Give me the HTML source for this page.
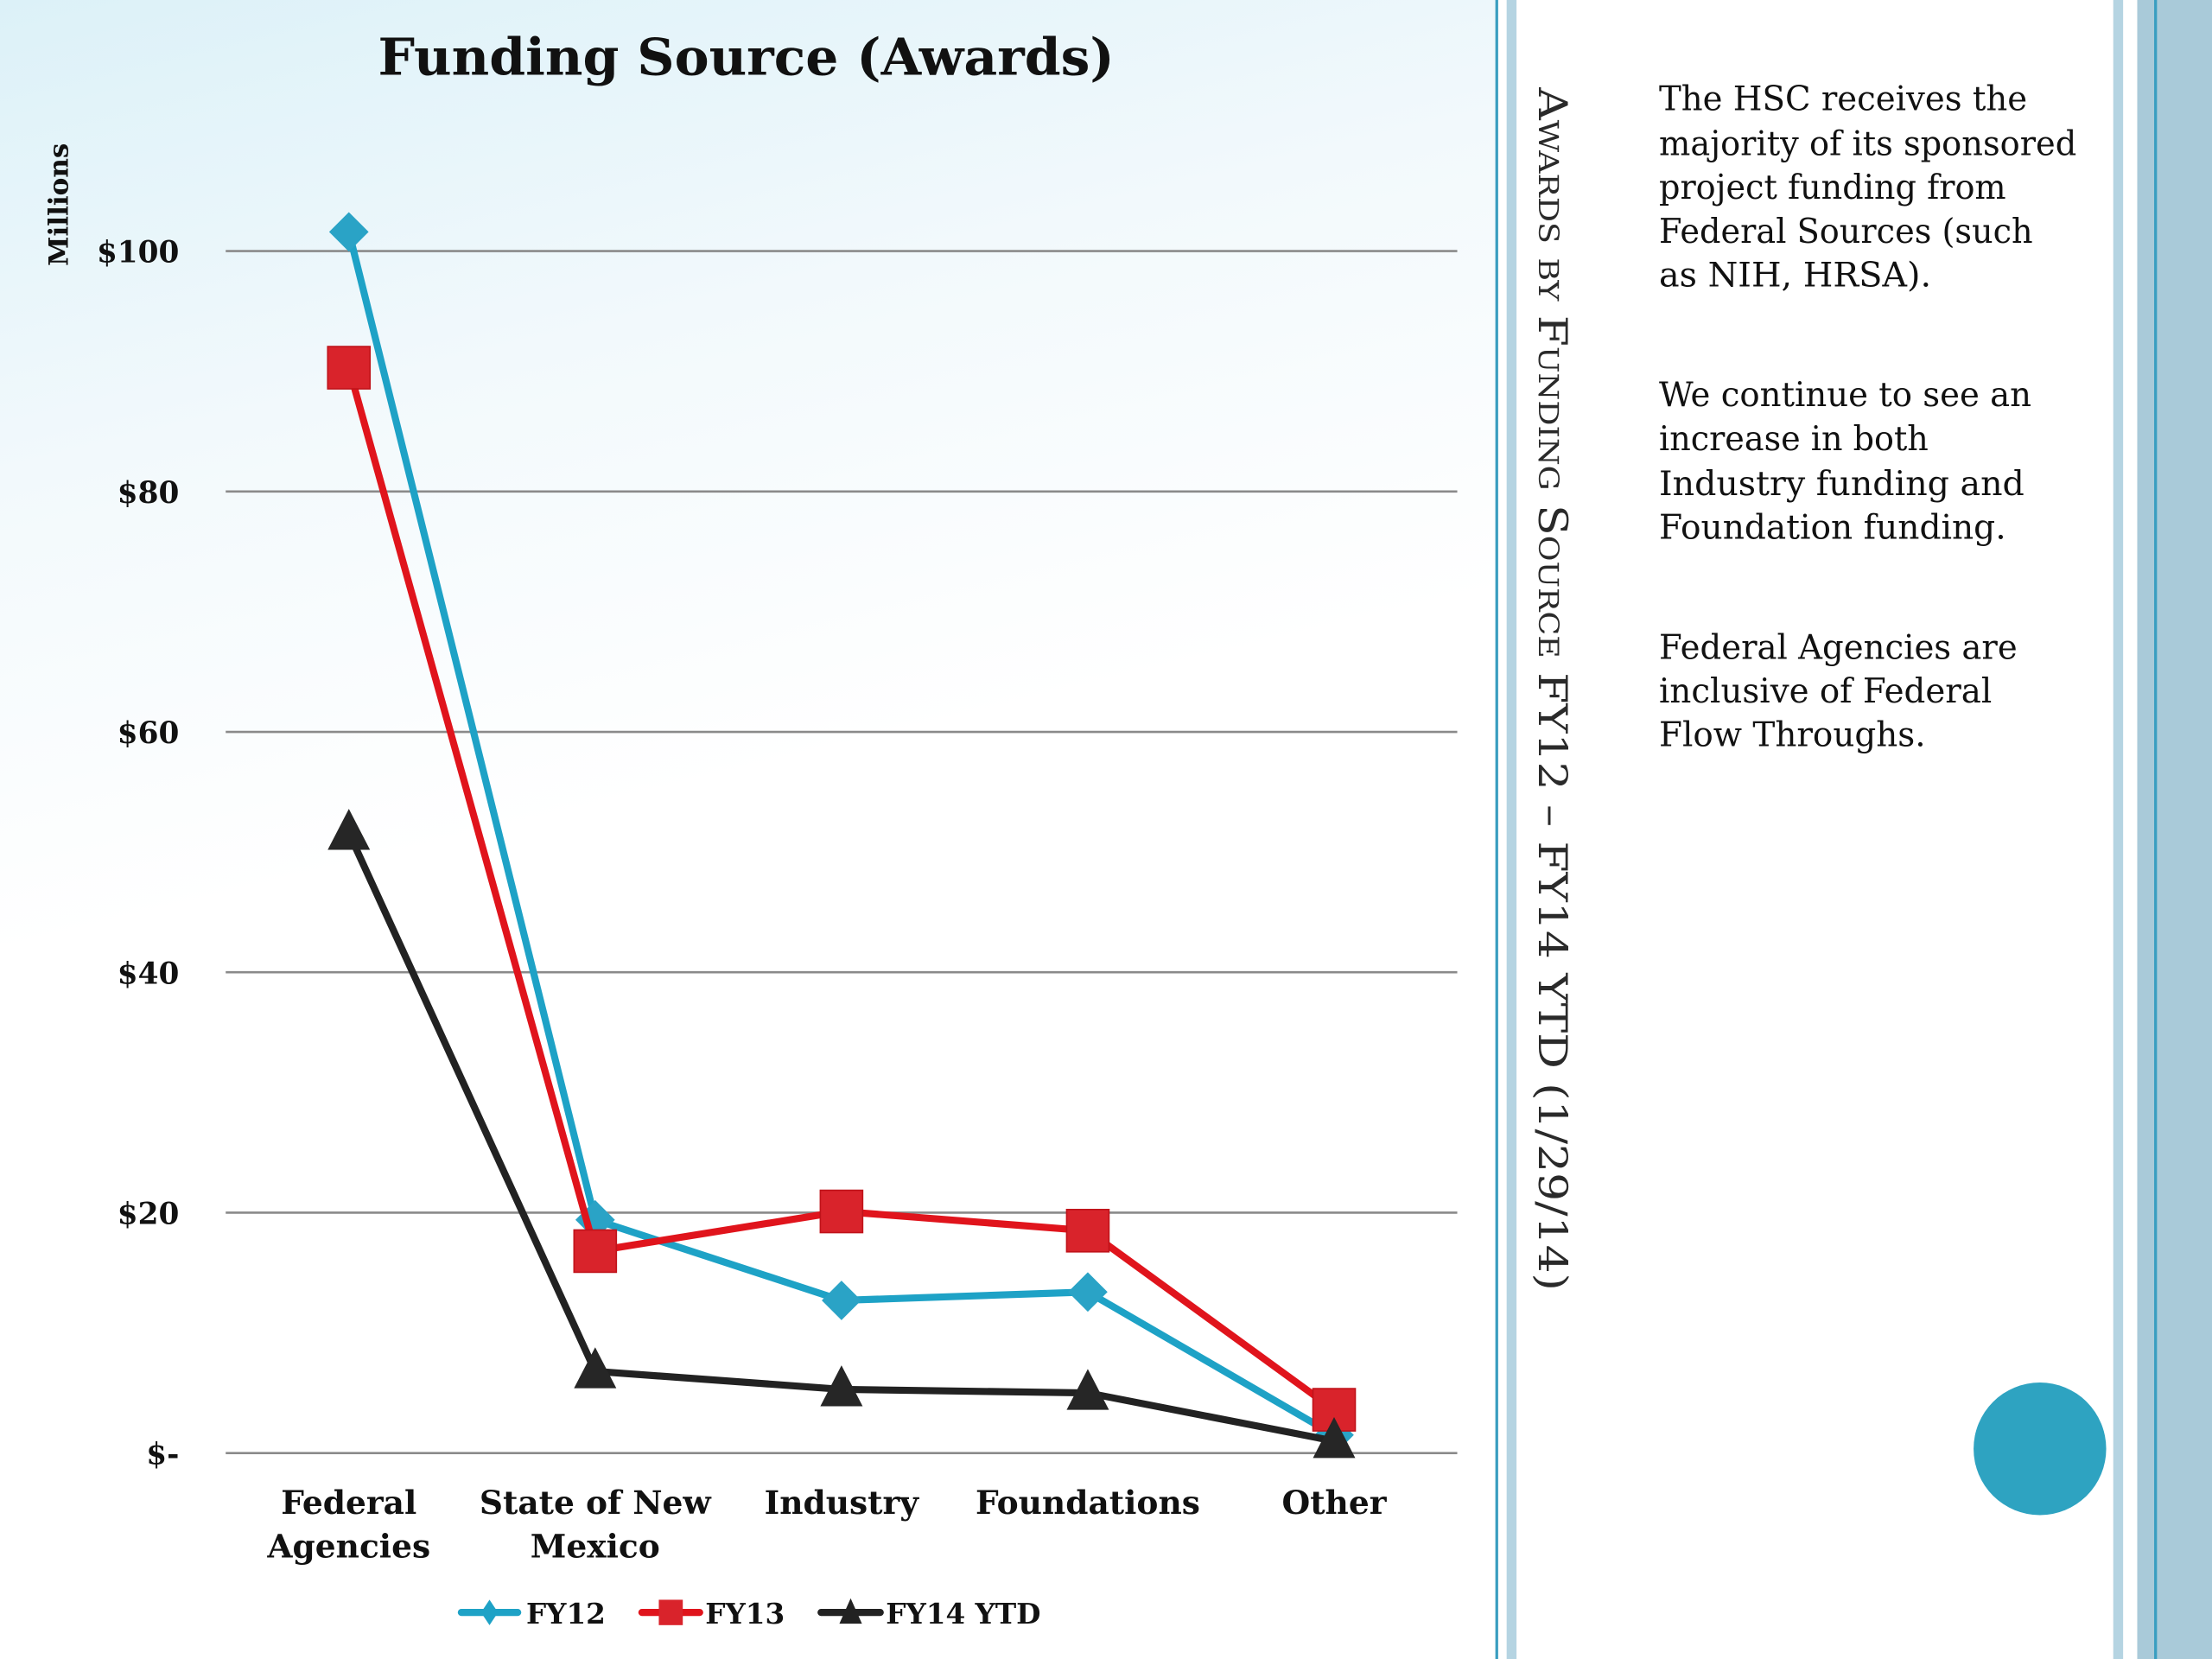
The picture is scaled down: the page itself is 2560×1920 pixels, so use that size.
<!DOCTYPE html>
<html><head><meta charset="utf-8"><style>html,body{margin:0;padding:0;background:#fff}svg{display:block}</style></head>
<body>
<svg xmlns="http://www.w3.org/2000/svg" width="2560" height="1920" viewBox="0 0 1568 1176" font-family="'DejaVu Serif','Liberation Serif',serif">
<defs>
<linearGradient id="bg" x1="0" y1="0" x2="0.12" y2="0.55">
<stop offset="0" stop-color="#dcf1f8"/><stop offset="0.5" stop-color="#f2f9fc"/><stop offset="1" stop-color="#ffffff"/>
</linearGradient>
</defs>
<rect x="0" y="0" width="1062" height="1176" fill="url(#bg)"/>
<rect x="1062" y="0" width="506" height="1176" fill="#fff"/>
<rect x="1060" y="0" width="2" height="1176" fill="#3a9ec0"/>
<rect x="1068" y="0" width="7" height="1176" fill="#b5d4e2"/>
<rect x="1498" y="0" width="7" height="1176" fill="#b5d4e2"/>
<rect x="1515" y="0" width="53" height="1176" fill="#a9cad9"/>
<rect x="1527" y="0" width="2" height="1176" fill="#3a9ec0"/>
<circle cx="1446" cy="1027" r="47" fill="#2ea3c1"/>

<text x="529" y="53" text-anchor="middle" font-size="36" font-weight="bold" textLength="522" lengthAdjust="spacingAndGlyphs" fill="#111">Funding Source (Awards)</text>
<text transform="translate(48,145) rotate(-90)" text-anchor="middle" font-size="19" font-weight="bold" fill="#111">Millions</text>

<g id="grid"></g>
<g id="yticks"></g>
<g id="xticks"></g>
<g id="series"></g>

<g font-size="20" font-weight="bold" fill="#111">
<g>
<line x1="327" y1="1143" x2="367" y2="1143" stroke="#1ea2c6" stroke-width="5" stroke-linecap="round"/>
<path d="M347 1134 L353 1143 L347 1152 L341 1143Z" fill="#1ea2c6"/>
<text x="373" y="1151">FY12</text></g>
<g>
<line x1="455" y1="1143" x2="496" y2="1143" stroke="#e0141c" stroke-width="5" stroke-linecap="round"/>
<rect x="467" y="1134" width="17" height="18" fill="#d9232b"/>
<text x="500" y="1151">FY13</text></g>
<g>
<line x1="582" y1="1143" x2="624" y2="1143" stroke="#222" stroke-width="5" stroke-linecap="round"/>
<path d="M603 1133 L611 1151 L595 1151Z" fill="#222"/>
<text x="628" y="1151">FY14 YTD</text></g>
</g>

<text transform="translate(1091,62) rotate(90)" font-size="28" fill="#2a2a2a" style="font-variant:small-caps" textLength="853" lengthAdjust="spacingAndGlyphs">Awards by Funding Source FY12 – FY14 YTD (1/29/14)</text>

<g font-size="24" fill="#111">
<text x="1176" y="78" textLength="261" lengthAdjust="spacingAndGlyphs">The HSC receives the</text>
<text x="1176" y="110" textLength="296" lengthAdjust="spacingAndGlyphs">majority of its sponsored</text>
<text x="1176" y="141" textLength="246" lengthAdjust="spacingAndGlyphs">project funding from</text>
<text x="1176" y="172" textLength="265" lengthAdjust="spacingAndGlyphs">Federal Sources (such</text>
<text x="1176" y="203" textLength="193" lengthAdjust="spacingAndGlyphs">as NIH, HRSA).</text>
<text x="1176" y="288" textLength="264" lengthAdjust="spacingAndGlyphs">We continue to see an</text>
<text x="1176" y="319" textLength="191" lengthAdjust="spacingAndGlyphs">increase in both</text>
<text x="1176" y="351" textLength="259" lengthAdjust="spacingAndGlyphs">Industry funding and</text>
<text x="1176" y="382" textLength="246" lengthAdjust="spacingAndGlyphs">Foundation funding.</text>
<text x="1176" y="467" textLength="254" lengthAdjust="spacingAndGlyphs">Federal Agencies are</text>
<text x="1176" y="498" textLength="236" lengthAdjust="spacingAndGlyphs">inclusive of Federal</text>
<text x="1176" y="529" textLength="189" lengthAdjust="spacingAndGlyphs">Flow Throughs.</text>
</g>
</svg>
<script>
const categories = [["Federal","Agencies"],["State of New","Mexico"],["Industry"],["Foundations"],["Other"]];
const fy12 = [101.6, 19.4, 12.7, 13.4, 1.5];
const fy13 = [90.3, 16.8, 20.1, 18.5, 3.6];
const fy14 = [51.6, 6.8, 5.3, 5.0, 1.0];
const yTicks = [0, 20, 40, 60, 80, 100];
const yTickLabels = ["$-", "$20", "$40", "$60", "$80", "$100"];

const NS = "http://www.w3.org/2000/svg";
const plotL = 160, plotR = 1033, y0 = 1030, y100 = 178;
function yScale(v){ return y0 - (v/100)*(y0-y100); }
function xScale(i){ const step=(plotR-plotL)/categories.length; return plotL + step*(i+0.5); }
function mk(tag, attrs, parent){ const e=document.createElementNS(NS,tag); for(const k in attrs) e.setAttribute(k,attrs[k]); parent.appendChild(e); return e; }

const grid=document.getElementById('grid'), yt=document.getElementById('yticks'), xt=document.getElementById('xticks'), ser=document.getElementById('series');
yTicks.forEach((v,i)=>{
  const l=mk('line',{x1:plotL,x2:plotR,y1:yScale(v),y2:yScale(v),stroke:'#8a8a8a','stroke-width':1.6},grid);
  
  
  const t=mk('text',{x:127,y:yScale(v)+8,'text-anchor':'end','font-size':21,'font-weight':'bold',fill:'#111'},yt);
  
  
  t.textContent=yTickLabels[i];
});
categories.forEach((c,i)=>{
  c.forEach((line,j)=>{
    const t=mk('text',{x:xScale(i),y:1073+j*31,'text-anchor':'middle','font-size':23,'font-weight':'bold',fill:'#111'},xt);
    
    
    t.textContent=line;
  });
});
function drawSeries(vals,color,marker,name,mcolor){
  const g=mk('g',{},ser);
  
  
  const pts=vals.map((v,i)=>xScale(i)+','+yScale(v)).join(' ');
  const pl=mk('polyline',{points:pts,fill:'none',stroke:color,'stroke-width':5,'stroke-linejoin':'round'},g);
  
  
  vals.forEach((v,i)=>{
    const x=xScale(i), y=yScale(v); let m;
    if(marker==='diamond') m=mk('path',{d:`M${x} ${y-14} L${x+14} ${y} L${x} ${y+14} L${x-14} ${y}Z`,fill:mcolor},g);
    else if(marker==='square') m=mk('rect',{x:x-15,y:y-15,width:30,height:30,fill:mcolor,stroke:'#c0131a','stroke-width':1},g);
    else m=mk('path',{d:`M${x} ${y-17} L${x+15} ${y+12} L${x-15} ${y+12}Z`,fill:mcolor},g);
    
    
  });
}
drawSeries(fy12,'#1ea2c6','diamond','series-fy12','#2aa3c6');
drawSeries(fy13,'#e0141c','square','series-fy13','#d9232b');
drawSeries(fy14,'#222222','triangle','series-fy14','#262626');
</script>
</body></html>
